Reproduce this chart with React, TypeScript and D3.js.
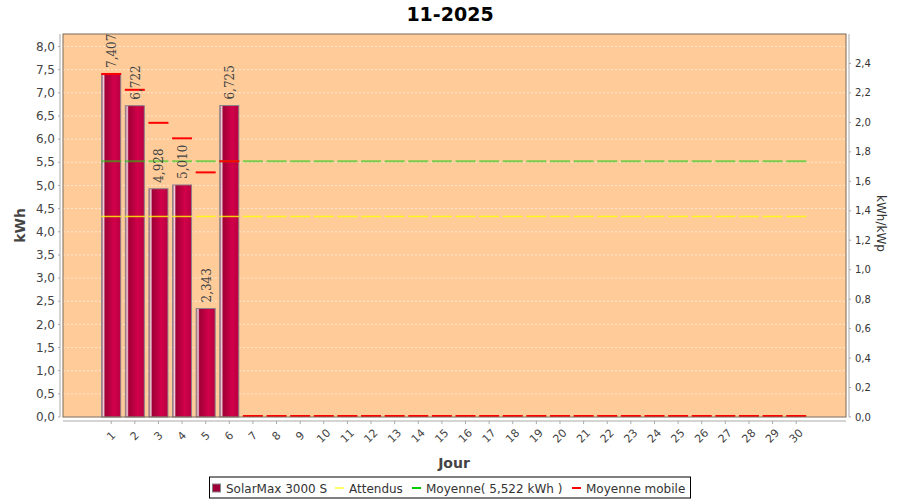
import React from "react";
import * as d3 from "d3";

const days: number[] = d3.range(1, 31);
const production: (number | null)[] = [7.407, 6.722, 4.928, 5.01, 2.343, 6.725];
const movingAvg: number[] = [7.407, 7.065, 6.352, 6.017, 5.282, 5.522,
  0, 0, 0, 0, 0, 0, 0, 0, 0, 0, 0, 0, 0, 0, 0, 0, 0, 0, 0, 0, 0, 0, 0, 0];
const expected = 4.33;
const average = 5.522;
const leftTicks: number[] = d3.range(0, 8.01, 0.5);
const rightTicks: number[] = d3.range(0, 2.41, 0.2);
const title = "11-2025";
const legendLabels = ["SolarMax 3000 S", "Attendus", "Moyenne( 5,522 kWh )", "Moyenne mobile"];

const W = 900, H = 500;
const plot = { left: 63, right: 846, top: 34, bottom: 417 };
const fmt1 = (v: number) => v.toFixed(1).replace(".", ",");
const fmt3 = (v: number) => v.toFixed(3).replace(".", ",");

export default function App() {
  const x = d3.scalePoint<number>().domain(days).range([111.2, 796.2]);
  const yL = d3.scaleLinear().domain([0, 8.27]).range([plot.bottom, plot.top]);
  const yR = d3.scaleLinear().domain([0, 2.6]).range([plot.bottom, plot.top]);
  const bw = 19;
  const sw = 20;
  const font = "DejaVu Sans, Verdana, sans-serif";

  const legendX = [212, 335, 412, 572];
  const legendTextX = [226, 349, 426, 586];

  return (
    <svg width={W} height={H} style={{ position: "absolute", left: 0, top: 0, background: "#fff" }} fontFamily={font}>
      <defs>
        <linearGradient id="barGrad" x1="0" x2="1" y1="0" y2="0">
          <stop offset="0%" stopColor="#9a5870" />
          <stop offset="10%" stopColor="#f0d4de" />
          <stop offset="18%" stopColor="#a00036" />
          <stop offset="65%" stopColor="#d2004a" />
          <stop offset="100%" stopColor="#b80040" />
        </linearGradient>
      </defs>
      <rect width={W} height={H} fill="#fff" />
      <text x={450} y={21} textAnchor="middle" fontSize={19} fontWeight="bold" fill="#000">{title}</text>

      {/* plot background */}
      <rect x={plot.left} y={plot.top} width={plot.right - plot.left} height={plot.bottom - plot.top} fill="#ffcc99" />
      {leftTicks.map((t) => (
        <line key={"g" + t} x1={plot.left} x2={plot.right} y1={yL(t)} y2={yL(t)} stroke="#fff" strokeOpacity={0.7} strokeDasharray="2,2" strokeWidth={0.8} />
      ))}

      {/* bars */}
      {production.map((v, i) =>
        v == null ? null : (
          <rect key={"b" + i} x={x(days[i])! - bw / 2} y={yL(v)} width={bw} height={plot.bottom - yL(v)}
            fill="url(#barGrad)" stroke="#8c8088" strokeWidth={1} />
        )
      )}

      {/* expected (yellow) */}
      {days.map((d) => (
        <line key={"y" + d} x1={x(d)! - sw / 2} x2={x(d)! + sw / 2} y1={yL(expected)} y2={yL(expected)} stroke="#ffff00" strokeOpacity={0.8} strokeWidth={1.5} />
      ))}
      {/* average (green) */}
      {days.map((d) => (
        <line key={"a" + d} x1={x(d)! - sw / 2} x2={x(d)! + sw / 2} y1={yL(average)} y2={yL(average)} stroke="#22cc11" strokeOpacity={0.6} strokeWidth={2} />
      ))}
      {/* moving average (red) */}
      {movingAvg.map((v, i) => (
        <line key={"m" + i} x1={x(days[i])! - sw / 2} x2={x(days[i])! + sw / 2} y1={yL(v) - (v === 0 ? 1 : 0)} y2={yL(v) - (v === 0 ? 1 : 0)} stroke="#ff0000" strokeWidth={2} />
      ))}

      {/* value labels */}
      {production.map((v, i) =>
        v == null ? null : (
          <text key={"l" + i} transform={`translate(${x(days[i])! + 5},${yL(v) - 6}) rotate(-90)`} fontFamily="DejaVu Serif, serif" fontSize={12} fill="#444">{fmt3(v)}</text>
        )
      )}

      <rect x={plot.left} y={plot.top} width={plot.right - plot.left} height={plot.bottom - plot.top} fill="none" stroke="#7a6a5a" strokeWidth={1} />

      {/* left axis */}
      <line x1={60} x2={60} y1={plot.top} y2={plot.bottom} stroke="#aaa" />
      {leftTicks.map((t) => (
        <g key={"lt" + t}>
          <line x1={58} x2={60} y1={yL(t)} y2={yL(t)} stroke="#aaa" />
          <text x={55} y={yL(t)} dy="0.35em" textAnchor="end" fontSize={12} fill="#444">{fmt1(t)}</text>
        </g>
      ))}
      <text transform={`translate(25,${(plot.top + plot.bottom) / 2}) rotate(-90)`} textAnchor="middle" fontSize={14} fontWeight="bold" fill="#444">kWh</text>

      {/* right axis */}
      <line x1={849} x2={849} y1={plot.top} y2={plot.bottom} stroke="#aaa" />
      {rightTicks.map((t) => (
        <g key={"rt" + t}>
          <line x1={849} x2={851} y1={yR(t)} y2={yR(t)} stroke="#aaa" />
          <text x={855} y={yR(t)} dy="0.35em" fontSize={10} fill="#333">{fmt1(t)}</text>
        </g>
      ))}
      <text transform={`translate(877,${(plot.top + plot.bottom) / 2 - 2}) rotate(90)`} textAnchor="middle" fontSize={12} fill="#333">kWh/kWp</text>

      {/* bottom axis */}
      <line x1={plot.left} x2={plot.right} y1={421} y2={421} stroke="#aaa" />
      {days.map((d) => (
        <g key={"xt" + d}>
          <line x1={x(d)} x2={x(d)} y1={421} y2={424} stroke="#aaa" />
          <text transform={`translate(${x(d)},436) rotate(-45)`} textAnchor="middle" dominantBaseline="central" fontSize={11} fill="#444">{d}</text>
        </g>
      ))}
      <text x={454} y={468} textAnchor="middle" fontSize={14} fontWeight="bold" fill="#444">Jour</text>

      {/* legend */}
      <rect x={209.5} y={477} width={481} height={21} fill="#fff" stroke="#000" strokeWidth={1} />
      <rect x={legendX[0] + 0.5} y={484} width={8} height={8} fill="#a0003a" stroke="#888" />
      <line x1={legendX[1]} x2={legendX[1] + 9} y1={488} y2={488} stroke="#ffff66" strokeWidth={2} />
      <line x1={legendX[2]} x2={legendX[2] + 9} y1={488} y2={488} stroke="#00cc00" strokeWidth={2} />
      <line x1={legendX[3]} x2={legendX[3] + 9} y1={488} y2={488} stroke="#ff0000" strokeWidth={2} />
      {legendLabels.map((l, i) => (
        <text key={"lg" + i} x={legendTextX[i]} y={492.5} fontSize={12} fill="#333">{l}</text>
      ))}
    </svg>
  );
}
